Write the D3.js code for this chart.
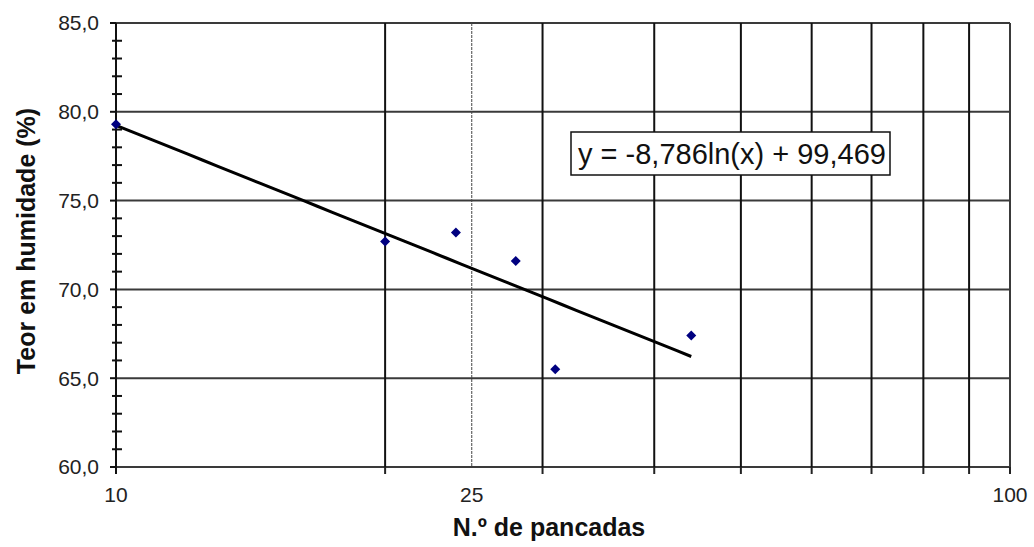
<!DOCTYPE html>
<html>
<head>
<meta charset="utf-8">
<script src="https://cdn.jsdelivr.net/npm/d3@7"></script>
<style>
  html, body { margin: 0; padding: 0; background: #fff; }
  svg { display: block; font-family: "Liberation Sans", Arial, sans-serif; }
</style>
</head>
<body>
<svg id="chart" width="1034" height="547"></svg>
<script>
// Blow counts and moisture contents from the liquid-limit test
const pancadas = [10, 20, 24, 28, 31, 44];
const humidade = [79.3, 72.7, 73.2, 71.6, 65.5, 67.4];

// Logarithmic trendline coefficients: y = a·ln(x) + b
const trendA = -8.786;
const trendB = 99.469;
const equationLabel = "y = -8,786ln(x) + 99,469";

// Axis ticks
const xGridValues = [20, 30, 40, 50, 60, 70, 80, 90];
const xTickValues = [10, 20, 30, 40, 50, 60, 70, 80, 90, 100];
const xLabelValues = [10, 25, 100];
const xRefLine = 25;
const yMajor = [60, 65, 70, 75, 80, 85];
const yMinor = d3.range(60, 86, 1).filter(v => v % 5 !== 0);

const svg = d3.select("#chart");
const margin = { left: 116, right: 24, top: 23, bottom: 80 };
const W = 1034, H = 547;

const x = d3.scaleLog().domain([10, 100]).range([margin.left, W - margin.right]);
const y = d3.scaleLinear().domain([60, 85]).range([H - margin.bottom, margin.top]);

const x0 = x.range()[0], x1 = x.range()[1];
const yTop = y.range()[1], yBot = y.range()[0];

// Horizontal gridlines (including top and bottom frame)
svg.append("g").selectAll("line").data(yMajor).join("line")
  .attr("x1", x0).attr("x2", x1)
  .attr("y1", d => y(d)).attr("y2", d => y(d))
  .attr("stroke", "#3a3a3a").attr("stroke-width", 2);

// Vertical gridlines
svg.append("g").selectAll("line").data(xGridValues).join("line")
  .attr("x1", d => x(d)).attr("x2", d => x(d))
  .attr("y1", yTop).attr("y2", yBot)
  .attr("stroke", "#111").attr("stroke-width", 2);

// Reference line at 25 blows
svg.append("line")
  .attr("x1", x(xRefLine)).attr("x2", x(xRefLine))
  .attr("y1", yTop).attr("y2", yBot)
  .attr("stroke", "#444").attr("stroke-width", 1)
  .attr("stroke-dasharray", "3,1");

// Right frame
svg.append("line")
  .attr("x1", x1).attr("x2", x1).attr("y1", yTop).attr("y2", yBot + 7)
  .attr("stroke", "#3a3a3a").attr("stroke-width", 2);

// X tick marks below the axis
svg.append("g").selectAll("line").data(xTickValues).join("line")
  .attr("x1", d => x(d)).attr("x2", d => x(d))
  .attr("y1", yBot).attr("y2", yBot + 7)
  .attr("stroke", "#222").attr("stroke-width", 2);

// Y axis line
svg.append("line")
  .attr("x1", x0).attr("x2", x0).attr("y1", yTop).attr("y2", yBot + 7)
  .attr("stroke", "#111").attr("stroke-width", 2);

// Y major ticks
svg.append("g").selectAll("line").data(yMajor).join("line")
  .attr("x1", x0 - 6).attr("x2", x0)
  .attr("y1", d => y(d)).attr("y2", d => y(d))
  .attr("stroke", "#111").attr("stroke-width", 2);

// Y minor ticks (crossing the axis)
svg.append("g").selectAll("line").data(yMinor).join("line")
  .attr("x1", x0 - 4).attr("x2", x0 + 6)
  .attr("y1", d => y(d)).attr("y2", d => y(d))
  .attr("stroke", "#111").attr("stroke-width", 2);

// Y tick labels
svg.append("g").selectAll("text").data(yMajor).join("text")
  .attr("x", x0 - 17).attr("y", d => y(d))
  .attr("dy", "0.35em")
  .attr("text-anchor", "end")
  .attr("font-size", 21).attr("fill", "#222")
  .text(d => d3.format(".1f")(d).replace(".", ","));

// X tick labels
svg.append("g").selectAll("text").data(xLabelValues).join("text")
  .attr("x", d => x(d)).attr("y", yBot + 35)
  .attr("text-anchor", "middle")
  .attr("font-size", 21).attr("fill", "#222")
  .text(d => d);

// Axis titles
svg.append("text")
  .attr("x", (x0 + x1) / 2 - 14).attr("y", 536)
  .attr("text-anchor", "middle")
  .attr("font-size", 25).attr("font-weight", "bold").attr("fill", "#111")
  .text("N.º de pancadas");

svg.append("text")
  .attr("transform", `translate(35, ${(yTop + yBot) / 2 - 4}) rotate(-90)`)
  .attr("text-anchor", "middle")
  .attr("font-size", 25).attr("font-weight", "bold").attr("fill", "#111")
  .text("Teor em humidade (%)");

// Trendline across the observed range
const xMin = d3.min(pancadas), xMax = d3.max(pancadas);
const trendPts = d3.range(0, 41).map(i => {
  const xv = xMin * Math.pow(xMax / xMin, i / 40);
  return [xv, trendA * Math.log(xv) + trendB];
});
svg.append("path")
  .datum(trendPts)
  .attr("d", d3.line().x(d => x(d[0])).y(d => y(d[1])))
  .attr("fill", "none").attr("stroke", "#000").attr("stroke-width", 3);

// Data points: squares turned 45° to form diamonds
const data = pancadas.map((p, i) => ({ p, h: humidade[i] }));
svg.append("g").selectAll("path").data(data).join("path")
  .attr("transform", d => `translate(${x(d.p)},${y(d.h)}) rotate(45)`)
  .attr("d", d3.symbol(d3.symbolSquare, 50)())
  .attr("fill", "#000080");

// Equation label box
const eqG = svg.append("g");
eqG.append("rect")
  .attr("x", 571).attr("y", 132).attr("width", 319).attr("height", 43)
  .attr("fill", "#fff").attr("stroke", "#111").attr("stroke-width", 1.5);
eqG.append("text")
  .attr("x", 578).attr("y", 164)
  .attr("font-size", 29).attr("fill", "#111")
  .text(equationLabel);
</script>
</body>
</html>
